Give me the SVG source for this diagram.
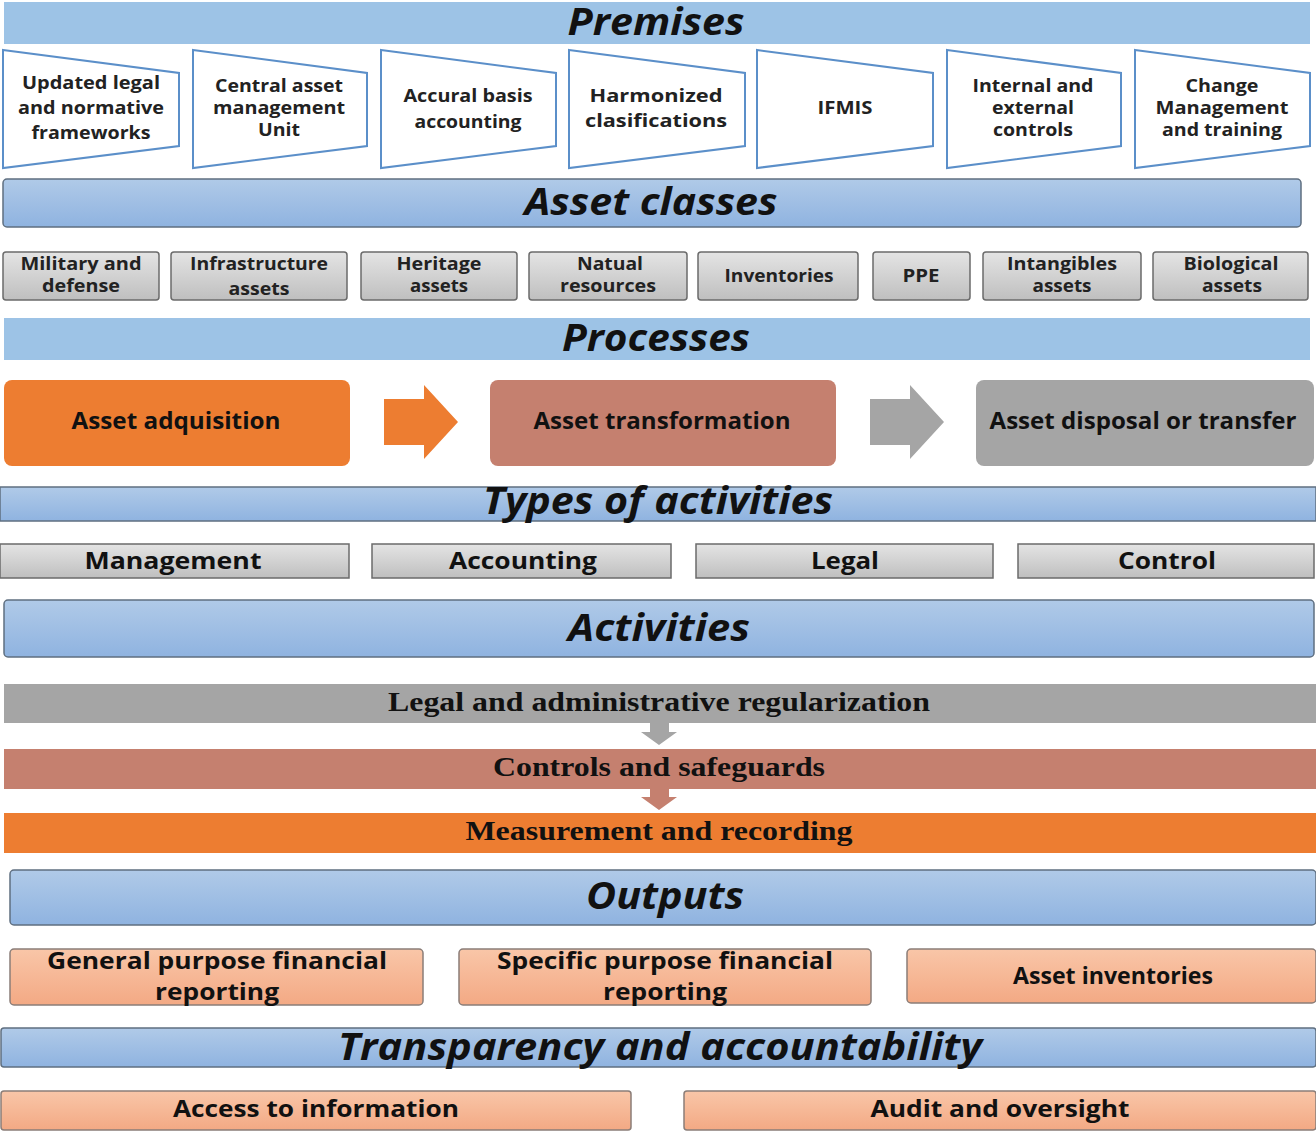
<svg xmlns="http://www.w3.org/2000/svg" width="1316" height="1131" viewBox="0 0 1316 1131">
<defs>
<linearGradient id="gBlue" x1="0" y1="0" x2="0" y2="1"><stop offset="0" stop-color="#b0cae8"/><stop offset="1" stop-color="#8fb3e0"/></linearGradient>
<linearGradient id="gGray" x1="0" y1="0" x2="0" y2="1"><stop offset="0" stop-color="#e4e4e4"/><stop offset="1" stop-color="#bfbfbf"/></linearGradient>
<linearGradient id="gPeach" x1="0" y1="0" x2="0" y2="1"><stop offset="0" stop-color="#f9c6a8"/><stop offset="1" stop-color="#f3a984"/></linearGradient>
<style>
text{text-anchor:middle}
.flat{fill:#9dc3e6}
.gbar{fill:url(#gBlue);stroke:#5f6f80;stroke-width:1.5}
.ttl{font-family:"Open Sans","Liberation Sans",sans-serif;font-weight:bold;font-style:italic;font-size:37px;fill:#111}
.trap{fill:#fff;stroke:#5b8fc9;stroke-width:2}
.t18{font-family:"Open Sans","Liberation Sans",sans-serif;font-weight:bold;font-size:18px;fill:#222}
.cls{fill:url(#gGray);stroke:#6b6b6b;stroke-width:1.5}
.t22{font-family:"Open Sans","Liberation Sans",sans-serif;font-weight:bold;font-size:23px;fill:#111}
.ser{font-family:"Liberation Serif",serif;font-weight:bold;font-size:28px;fill:#111}
.peach{fill:url(#gPeach);stroke:#8a7d78;stroke-width:1.5}
</style>
</defs>

<g id="premises">
<rect class="flat" x="4" y="2" width="1306" height="42"/>
<text class="ttl" x="656" y="35" font-size="32" textLength="177" lengthAdjust="spacingAndGlyphs">Premises</text>
</g>
<g id="p1"><polygon class="trap" points="3,50 179,73 179,146 3,168"/><text class="t18" x="91" y="89" textLength="138" lengthAdjust="spacingAndGlyphs">Updated legal</text><text class="t18" x="91" y="114" textLength="146" lengthAdjust="spacingAndGlyphs">and normative</text><text class="t18" x="91" y="139" textLength="119" lengthAdjust="spacingAndGlyphs">frameworks</text></g>
<g id="p2"><polygon class="trap" points="193,50 367,73 367,146 193,168"/><text class="t18" x="279" y="92" textLength="128" lengthAdjust="spacingAndGlyphs">Central asset</text><text class="t18" x="279" y="114" textLength="132" lengthAdjust="spacingAndGlyphs">management</text><text class="t18" x="279" y="136" textLength="42" lengthAdjust="spacingAndGlyphs">Unit</text></g>
<g id="p3"><polygon class="trap" points="381,50 556,73 556,146 381,168"/><text class="t18" x="468" y="102" textLength="129" lengthAdjust="spacingAndGlyphs">Accural basis</text><text class="t18" x="468" y="128" textLength="107" lengthAdjust="spacingAndGlyphs">accounting</text></g>
<g id="p4"><polygon class="trap" points="569,50 745,73 745,146 569,168"/><text class="t18" x="656" y="102" textLength="133" lengthAdjust="spacingAndGlyphs">Harmonized</text><text class="t18" x="656" y="127" textLength="142" lengthAdjust="spacingAndGlyphs">clasifications</text></g>
<g id="p5"><polygon class="trap" points="757,50 933,73 933,146 757,168"/><text class="t18" x="845" y="114" textLength="55" lengthAdjust="spacingAndGlyphs">IFMIS</text></g>
<g id="p6"><polygon class="trap" points="947,50 1121,73 1121,146 947,168"/><text class="t18" x="1033" y="92" textLength="121" lengthAdjust="spacingAndGlyphs">Internal and</text><text class="t18" x="1033" y="114" textLength="82" lengthAdjust="spacingAndGlyphs">external</text><text class="t18" x="1033" y="136" textLength="80" lengthAdjust="spacingAndGlyphs">controls</text></g>
<g id="p7"><polygon class="trap" points="1135,50 1310,73 1310,146 1135,168"/><text class="t18" x="1222" y="92" textLength="73" lengthAdjust="spacingAndGlyphs">Change</text><text class="t18" x="1222" y="114" textLength="133" lengthAdjust="spacingAndGlyphs">Management</text><text class="t18" x="1222" y="136" textLength="120" lengthAdjust="spacingAndGlyphs">and training</text></g>

<g id="assetclasses">
<rect class="gbar" x="3" y="179" width="1298" height="48" rx="4"/>
<text class="ttl" x="651" y="215" textLength="253" lengthAdjust="spacingAndGlyphs">Asset classes</text>
</g>
<g id="c1"><rect class="cls" x="3" y="252" width="156" height="48" rx="3"/><text class="t18" x="81" y="270" textLength="121" lengthAdjust="spacingAndGlyphs">Military and</text><text class="t18" x="81" y="292" textLength="78" lengthAdjust="spacingAndGlyphs">defense</text></g>
<g id="c2"><rect class="cls" x="171" y="252" width="176" height="48" rx="3"/><text class="t18" x="259" y="270" textLength="138" lengthAdjust="spacingAndGlyphs">Infrastructure</text><text class="t18" x="259" y="295" textLength="61" lengthAdjust="spacingAndGlyphs">assets</text></g>
<g id="c3"><rect class="cls" x="361" y="252" width="156" height="48" rx="3"/><text class="t18" x="439" y="270" textLength="85" lengthAdjust="spacingAndGlyphs">Heritage</text><text class="t18" x="439" y="292" textLength="58" lengthAdjust="spacingAndGlyphs">assets</text></g>
<g id="c4"><rect class="cls" x="529" y="252" width="158" height="48" rx="3"/><text class="t18" x="610" y="270" textLength="66" lengthAdjust="spacingAndGlyphs">Natual</text><text class="t18" x="608" y="292" textLength="96" lengthAdjust="spacingAndGlyphs">resources</text></g>
<g id="c5"><rect class="cls" x="698" y="252" width="160" height="48" rx="3"/><text class="t18" x="779" y="282" font-weight="normal" fill="#333" textLength="109" lengthAdjust="spacingAndGlyphs">Inventories</text></g>
<g id="c6"><rect class="cls" x="873" y="252" width="97" height="48" rx="3"/><text class="t18" x="921" y="282" textLength="37" lengthAdjust="spacingAndGlyphs">PPE</text></g>
<g id="c7"><rect class="cls" x="983" y="252" width="158" height="48" rx="3"/><text class="t18" x="1062" y="270" textLength="110" lengthAdjust="spacingAndGlyphs">Intangibles</text><text class="t18" x="1062" y="292" textLength="59" lengthAdjust="spacingAndGlyphs">assets</text></g>
<g id="c8"><rect class="cls" x="1153" y="252" width="155" height="48" rx="3"/><text class="t18" x="1231" y="270" textLength="95" lengthAdjust="spacingAndGlyphs">Biological</text><text class="t18" x="1232" y="292" textLength="60" lengthAdjust="spacingAndGlyphs">assets</text></g>

<g id="processes">
<rect class="flat" x="4" y="318" width="1306" height="42"/>
<text class="ttl" x="656" y="351" textLength="188" lengthAdjust="spacingAndGlyphs">Processes</text>
</g>
<g id="pr1"><rect x="4" y="380" width="346" height="86" rx="8" fill="#ed7d31"/><text class="t22" x="176" y="429" textLength="209" lengthAdjust="spacingAndGlyphs">Asset adquisition</text></g>
<g id="pr2"><rect x="490" y="380" width="346" height="86" rx="8" fill="#c5806f"/><text class="t22" x="662" y="429" textLength="257" lengthAdjust="spacingAndGlyphs">Asset transformation</text></g>
<g id="pr3"><rect x="976" y="380" width="338" height="86" rx="8" fill="#a5a5a5"/><text class="t22" x="1143" y="429" textLength="307" lengthAdjust="spacingAndGlyphs">Asset disposal or transfer</text></g>

<g id="types">
<rect class="gbar" x="0" y="487" width="1316" height="34"/>
<text class="ttl" x="658" y="514" textLength="350" lengthAdjust="spacingAndGlyphs">Types of activities</text>
</g>
<g id="ty1"><rect class="cls" x="0" y="544" width="349" height="34"/><text class="t22" x="173" y="569" textLength="177" lengthAdjust="spacingAndGlyphs">Management</text></g>
<g id="ty2"><rect class="cls" x="372" y="544" width="299" height="34"/><text class="t22" x="523" y="569" textLength="148" lengthAdjust="spacingAndGlyphs">Accounting</text></g>
<g id="ty3"><rect class="cls" x="696" y="544" width="297" height="34"/><text class="t22" x="845" y="569" textLength="68" lengthAdjust="spacingAndGlyphs">Legal</text></g>
<g id="ty4"><rect class="cls" x="1018" y="544" width="296" height="34"/><text class="t22" x="1167" y="569" textLength="98" lengthAdjust="spacingAndGlyphs">Control</text></g>

<g id="activities">
<rect class="gbar" x="4" y="600" width="1310" height="57" rx="4"/>
<text class="ttl" x="659" y="641" textLength="182" lengthAdjust="spacingAndGlyphs">Activities</text>
</g>
<g id="a1"><rect x="4" y="684" width="1312" height="39" fill="#a5a5a5"/><text class="ser" x="659" y="711" textLength="542" lengthAdjust="spacingAndGlyphs">Legal and administrative regularization</text></g>
<g id="a2"><rect x="4" y="749" width="1312" height="40" fill="#c5806f"/><text class="ser" x="659" y="776" textLength="332" lengthAdjust="spacingAndGlyphs">Controls and safeguards</text></g>
<g id="a3"><rect x="4" y="813" width="1312" height="40" fill="#ed7d31"/><text class="ser" x="659" y="840" textLength="387" lengthAdjust="spacingAndGlyphs">Measurement and recording</text></g>

<g id="outputs">
<rect class="gbar" x="10" y="870" width="1306" height="55" rx="4"/>
<text class="ttl" x="665" y="909" textLength="158" lengthAdjust="spacingAndGlyphs">Outputs</text>
</g>
<g id="o1"><rect class="peach" x="10" y="949" width="413" height="56" rx="4"/><text class="t22" x="217" y="969" textLength="340" lengthAdjust="spacingAndGlyphs">General purpose financial</text><text class="t22" x="217" y="1000" textLength="124" lengthAdjust="spacingAndGlyphs">reporting</text></g>
<g id="o2"><rect class="peach" x="459" y="949" width="412" height="56" rx="4"/><text class="t22" x="665" y="969" textLength="336" lengthAdjust="spacingAndGlyphs">Specific purpose financial</text><text class="t22" x="665" y="1000" textLength="124" lengthAdjust="spacingAndGlyphs">reporting</text></g>
<g id="o3"><rect class="peach" x="907" y="949" width="409" height="54" rx="4"/><text class="t22" x="1113" y="984" textLength="200" lengthAdjust="spacingAndGlyphs">Asset inventories</text></g>

<g id="transparency">
<rect class="gbar" x="1" y="1028" width="1315" height="39" rx="3"/>
<text class="ttl" x="660" y="1060" textLength="644" lengthAdjust="spacingAndGlyphs">Transparency and accountability</text>
</g>
<g id="t1"><rect class="peach" x="1" y="1091" width="630" height="39" rx="3"/><text class="t22" x="316" y="1117" textLength="286" lengthAdjust="spacingAndGlyphs">Access to information</text></g>
<g id="t2"><rect class="peach" x="684" y="1091" width="632" height="39" rx="3"/><text class="t22" x="1000" y="1117" textLength="259" lengthAdjust="spacingAndGlyphs">Audit and oversight</text></g>

<g id="connectors">
<polygon points="384,399 424,399 424,385 458,422 424,459 424,445 384,445" fill="#ed7d31"/>
<polygon points="870,399 910,399 910,385 944,422 910,459 910,445 870,445" fill="#a5a5a5"/>
<polygon points="650,723 669,723 669,732 677,732 659,745 641,732 650,732" fill="#a5a5a5"/>
<polygon points="650,789 669,789 669,797 677,797 659,810 641,797 650,797" fill="#c5806f"/>
</g>
</svg>
